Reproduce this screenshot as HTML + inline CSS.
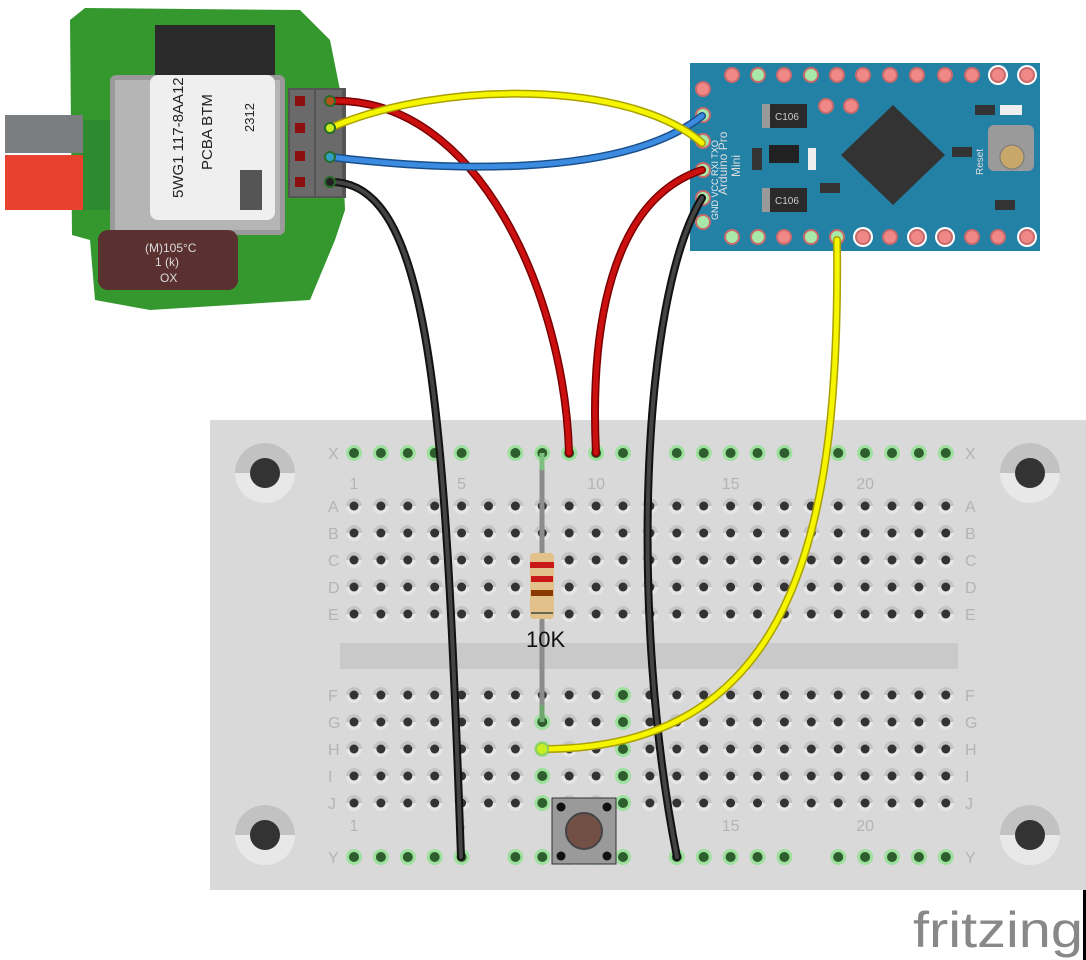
<!DOCTYPE html>
<html><head><meta charset="utf-8"><style>
html,body{margin:0;padding:0;background:#fff;width:1086px;height:960px;overflow:hidden}
svg{display:block}
text{font-family:"Liberation Sans",sans-serif}
</style></head><body>
<svg id="s" width="1086" height="960" viewBox="0 0 1086 960" xmlns="http://www.w3.org/2000/svg">
<!-- breadboard -->
<rect x="210" y="420" width="876" height="470" fill="#d9d9d9"/>
<rect x="340" y="643" width="618" height="26" fill="#c9c9c9"/>
<g id="mounts"></g>
<g id="holes"></g>
<g id="labels" fill="#b4b4b4" font-size="16"></g>

<!-- module -->
<g>
<path d="M85,8 L300,10 L330,40 L340,90 L345,210 L335,240 L310,300 L150,310 L95,300 L90,240 L72,235 L70,20 Z" fill="#34982f"/>
<rect x="80" y="120" width="30" height="90" fill="#2e8a2e"/>
<rect x="155" y="25" width="120" height="85" fill="#2a2a2a"/>
<rect x="110" y="75" width="175" height="160" rx="6" fill="#9a9a9a"/>
<rect x="115" y="80" width="165" height="150" fill="#b5b5b5"/>
<rect x="150" y="75" width="125" height="145" rx="8" fill="#efefef"/>
<text transform="translate(183,198) rotate(-90)" font-size="15" fill="#222">5WG1 117-8AA12</text>
<text transform="translate(212,170) rotate(-90)" font-size="15" fill="#222">PCBA BTM</text>
<text transform="translate(254,132) rotate(-90)" font-size="13" fill="#222">2312</text>
<rect x="240" y="170" width="22" height="40" fill="#555"/>
<rect x="5" y="115" width="78" height="38" fill="#7a7e80"/>
<rect x="5" y="155" width="78" height="55" fill="#e8412e"/>
<rect x="98" y="230" width="140" height="60" rx="10" fill="#5a3030"/>
<text x="145" y="252" font-size="12" fill="#ddd">(M)105°C</text>
<text x="155" y="266" font-size="12" fill="#ddd">1 (k)</text>
<text x="160" y="282" font-size="12" fill="#ddd">OX</text>
<rect x="288" y="88" width="58" height="110" fill="#555"/>
<rect x="290" y="90" width="24" height="106" fill="#6a6a6a"/>
<rect x="316" y="90" width="26" height="106" fill="#6a6a6a"/>
<g fill="#8b0f0f"><rect x="295" y="96" width="10" height="10"/><rect x="295" y="123" width="10" height="10"/><rect x="295" y="151" width="10" height="10"/><rect x="295" y="177" width="10" height="10"/></g>
</g>

<!-- arduino -->
<rect x="690" y="63" width="350" height="188" fill="#2481a6"/>
<path d="M893,105 L945,155 L893,205 L841,155 Z" fill="#333"/>
<rect x="762" y="104" width="45" height="24" fill="#2a2a2a"/><rect x="762" y="104" width="8" height="24" fill="#999"/>
<text x="775" y="120" font-size="10" fill="#ccc" font-family="Liberation Mono">C106</text>
<rect x="762" y="188" width="45" height="24" fill="#2a2a2a"/><rect x="762" y="188" width="8" height="24" fill="#999"/>
<text x="775" y="204" font-size="10" fill="#ccc" font-family="Liberation Mono">C106</text>
<rect x="769" y="145" width="30" height="18" fill="#222"/>
<rect x="752" y="148" width="10" height="22" fill="#333"/>
<rect x="808" y="148" width="8" height="22" fill="#eee"/>
<rect x="988" y="125" width="46" height="46" rx="6" fill="#9a9a9a"/>
<circle cx="1012" cy="157" r="12" fill="#c8a86a" stroke="#777"/>
<rect x="952" y="147" width="20" height="10" fill="#333"/>
<rect x="975" y="105" width="20" height="10" fill="#333"/>
<rect x="1000" y="105" width="22" height="10" fill="#eee"/>
<rect x="820" y="183" width="20" height="10" fill="#333"/>
<rect x="995" y="200" width="20" height="10" fill="#333"/>
<text transform="translate(727,195) rotate(-90)" font-size="12" fill="#ddd" font-family="Liberation Mono">Arduino Pro</text>
<text transform="translate(740,177) rotate(-90)" font-size="12" fill="#ddd" font-family="Liberation Mono">Mini</text>
<text transform="translate(983,175) rotate(-90)" font-size="10" fill="#ddd" font-family="Liberation Mono">Reset</text>
<text transform="translate(718,220) rotate(-90)" font-size="9" fill="#eee" font-family="Liberation Mono">GND VCC RXI TXO</text>
<g id="apins"></g>

<!-- resistor -->
<line x1="542" y1="453" x2="542" y2="722" stroke="#8c8c8c" stroke-width="5"/>
<line x1="542" y1="453" x2="542" y2="470" stroke="#7fbf7f" stroke-width="5"/>
<line x1="542" y1="705" x2="542" y2="722" stroke="#6fa86f" stroke-width="5"/>
<rect x="530" y="553" width="24" height="66" rx="4" fill="#e2c28a"/>
<rect x="530" y="562" width="24" height="6" fill="#c81818"/>
<rect x="531" y="576" width="22" height="6" fill="#c81818"/>
<rect x="531" y="590" width="22" height="6" fill="#8a3a00"/>
<rect x="531" y="612" width="22" height="2" fill="#665"/>
<text x="526" y="647" font-size="22" fill="#111">10K</text>

<!-- button -->
<rect x="552" y="798" width="64" height="66" fill="#9a9a9a" stroke="#333"/>
<circle cx="561" cy="807" r="4.5" fill="#111"/><circle cx="607" cy="807" r="4.5" fill="#111"/>
<circle cx="561" cy="856" r="4.5" fill="#111"/><circle cx="607" cy="856" r="4.5" fill="#111"/>
<circle cx="584" cy="831" r="18" fill="#735046" stroke="#444" stroke-width="2"/>

<!-- wires -->
<g fill="none" stroke-linecap="round">
<path d="M330,101 C480,95 565,300 569,453" stroke="#7a0000" stroke-width="8"/>
<path d="M330,101 C480,95 565,300 569,453" stroke="#cc1010" stroke-width="5"/>
<path d="M702,170 C610,200 590,330 596,453" stroke="#7a0000" stroke-width="8"/>
<path d="M702,170 C610,200 590,330 596,453" stroke="#cc1010" stroke-width="5"/>
<path d="M330,182 C430,180 445,400 461,857" stroke="#111" stroke-width="8"/>
<path d="M330,182 C430,180 445,400 461,857" stroke="#444" stroke-width="4"/>
<path d="M702,198 C640,300 630,620 677,857" stroke="#111" stroke-width="8"/>
<path d="M702,198 C640,300 630,620 677,857" stroke="#444" stroke-width="4"/>
<path d="M330,157 C440,170 620,180 702,116" stroke="#1a4f8a" stroke-width="8"/>
<path d="M330,157 C440,170 620,180 702,116" stroke="#3b8be0" stroke-width="5"/>
<path d="M330,128 C440,80 630,80 702,143" stroke="#aaa000" stroke-width="8"/>
<path d="M330,128 C440,80 630,80 702,143" stroke="#f5f500" stroke-width="5"/>
<path d="M837,240 C840,520 800,750 542,749" stroke="#aaa000" stroke-width="8"/>
<path d="M837,240 C840,520 800,750 542,749" stroke="#f5f500" stroke-width="5"/>
</g>
<g stroke="#2a6a2a" stroke-width="2">
<circle cx="330" cy="101" r="5" fill="#b5541a"/><circle cx="330" cy="128" r="5" fill="#c8f020"/>
<circle cx="330" cy="157" r="5" fill="#30a0c0"/><circle cx="330" cy="182" r="5" fill="#222"/>
</g>
<circle cx="542" cy="749" r="6" fill="#c8f020" stroke="#8fd060" stroke-width="2"/>

<text x="913" y="947" font-size="50" fill="#888" font-family="DejaVu Sans" textLength="170" lengthAdjust="spacingAndGlyphs">fritzing</text>
<rect x="1083" y="890" width="3" height="70" fill="#000"/>
</svg>
<script>
var NS="http://www.w3.org/2000/svg";
function el(p,t,a){var e=document.createElementNS(NS,t);for(var k in a)e.setAttribute(k,a[k]);p.appendChild(e);return e;}
var H=document.getElementById("holes"),L=document.getElementById("labels"),M=document.getElementById("mounts");
function cx(c){return 354+26.9*(c-1);}
var green={"8H":1,"8I":1,"8J":1,"8G":1,"11F":1,"11G":1,"11H":1,"11I":1,"11J":1};
function hole(x,y,g){
 if(g){el(H,"circle",{cx:x,cy:y,r:8,fill:"#9ee09e"});el(H,"circle",{cx:x,cy:y,r:5,fill:"#2e5e2e"});}
 else{el(H,"circle",{cx:x,cy:y,r:8,fill:"#e6e6e6"});el(H,"path",{d:"M"+(x-8)+","+y+" A8,8 0 0 1 "+(x+8)+","+y+" Z",fill:"#c4c4c4"});el(H,"circle",{cx:x,cy:y,r:4.5,fill:"#333"});}
}
var rows={A:506,B:533,C:560,D:587,E:614,F:695,G:722,H:749,I:776,J:803};
for(var r in rows){for(var c=1;c<=23;c++)hole(cx(c),rows[r],green[c+r]);
 var t=el(L,"text",{x:328,y:rows[r]+6});t.textContent=r;t=el(L,"text",{x:965,y:rows[r]+6});t.textContent=r;}
[453,857].forEach(function(y){for(var c=1;c<=23;c++){if(c%6==0)continue;hole(cx(c),y,true);}
 var lb=y==453?"X":"Y";var t=el(L,"text",{x:328,y:y+6});t.textContent=lb;t=el(L,"text",{x:965,y:y+6});t.textContent=lb;});
[[1,"1"],[5,"5"],[10,"10"],[15,"15"],[20,"20"]].forEach(function(n){var t=el(L,"text",{x:cx(n[0]),y:489,"text-anchor":"middle"});t.textContent=n[1];t=el(L,"text",{x:cx(n[0]),y:831,"text-anchor":"middle"});t.textContent=n[1];});
[[265,473],[1030,473],[265,835],[1030,835]].forEach(function(p){var x=p[0],y=p[1];
 el(M,"circle",{cx:x,cy:y,r:30,fill:"#e8e8e8"});el(M,"path",{d:"M"+(x-30)+","+y+" A30,30 0 0 1 "+(x+30)+","+y+" Z",fill:"#c2c2c2"});el(M,"circle",{cx:x,cy:y,r:15,fill:"#333"});});
var A=document.getElementById("apins");
function pin(x,y,col,ring){if(ring)el(A,"circle",{cx:x,cy:y,r:10,fill:"#fff"});el(A,"circle",{cx:x,cy:y,r:8,fill:"#c96a6a"});el(A,"circle",{cx:x,cy:y,r:6,fill:col});}
var tx=[732,758,784,811,837,863,890,917,945,972,998,1027];
tx.forEach(function(x,i){pin(x,75,(i==1||i==3)?"#a8e8a8":"#f08888",i>=10);});
pin(703,89,"#f08888");
tx.forEach(function(x,i){pin(x,237,(i<2||i==3||i==4)?"#a8e8a8":"#f08888",[5,7,8,11].indexOf(i)>=0);});
[115,141,170,198,222].forEach(function(y){pin(703,y,"#a8e8a8");});
pin(826,106,"#f08888");pin(851,106,"#f08888");
</script>
</body></html>
